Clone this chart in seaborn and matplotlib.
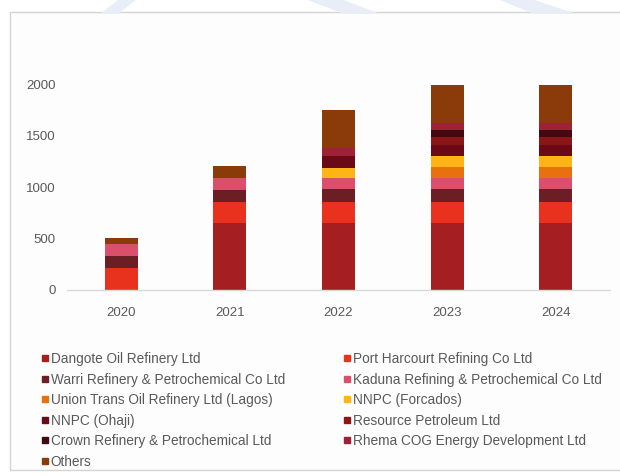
import matplotlib
matplotlib.use("Agg")
import matplotlib.pyplot as plt
from matplotlib.lines import Line2D
from matplotlib.patches import Polygon, Rectangle
import numpy as np
import pandas as pd
import seaborn as sns

years = ["2020", "2021", "2022", "2023", "2024"]
companies = [
    "Dangote Oil Refinery Ltd",
    "Port Harcourt Refining Co Ltd",
    "Warri Refinery & Petrochemical Co Ltd",
    "Kaduna Refining & Petrochemical Co Ltd",
    "Union Trans Oil Refinery Ltd (Lagos)",
    "NNPC (Forcados)",
    "NNPC (Ohaji)",
    "Resource Petroleum Ltd",
    "Crown Refinery & Petrochemical Ltd",
    "Rhema COG Energy Development Ltd",
    "Others",
]
dangote = [0, 650, 650, 650, 650]
port_harcourt = [210, 210, 210, 210, 210]
warri = [125, 115, 120, 120, 120]
kaduna = [115, 110, 110, 110, 110]
union_trans = [0, 0, 0, 110, 110]
forcados = [0, 0, 100, 100, 100]
ohaji = [0, 0, 115, 110, 110]
resource = [0, 0, 0, 80, 80]
crown = [0, 0, 0, 70, 70]
rhema = [0, 0, 80, 60, 60]
others = [60, 125, 365, 370, 370]
series = [dangote, port_harcourt, warri, kaduna, union_trans, forcados,
          ohaji, resource, crown, rhema, others]
colors = ["#A51E22", "#E8321E", "#6B1E24", "#DA506C", "#E8700E", "#FDB515",
          "#6A0A16", "#8C1616", "#420A10", "#9E2136", "#8B3A0A"]

sns.set_theme(style="white")
plt.rcParams["font.family"] = ["Liberation Sans", "DejaVu Sans"]

W, H = 620, 475
fig = plt.figure(figsize=(W / 100, H / 100), dpi=100)
fig.patch.set_facecolor("white")

# decorative background
fig.add_artist(Rectangle((10 / W, (H - 470) / H), (W - 8) / W, (470 - 12) / H,
                         transform=fig.transFigure, facecolor="#fdfdfd",
                         edgecolor="#d4d4d4", linewidth=1.0, zorder=0))
for pts in [[(100, 14), (118, 14), (136, 0), (118, 0)],
            [(344, 14), (380, 14), (344, 0), (308, 0)],
            [(534, 14), (577, 14), (534, 0), (500, 0)]]:
    fig.add_artist(Polygon([(x / W, (H - y) / H) for x, y in pts],
                           closed=True, transform=fig.transFigure,
                           facecolor="#e8edf7", edgecolor="none", zorder=0))

ax = fig.add_axes([67 / W, (H - 290) / H, (610 - 67) / W, (290 - 33) / H])
ax.set_facecolor("none")

cum = np.cumsum(np.array(series, dtype=float), axis=0)
for i in range(len(series) - 1, -1, -1):
    df = pd.DataFrame({"year": years, "value": cum[i]})
    sns.barplot(data=df, x="year", y="value", color=colors[i], saturation=1,
                width=0.305, order=years, ax=ax, linewidth=0, edgecolor="none")

ax.set_xlim(-0.5, 4.5)
ax.set_ylim(0, 2500)
ax.set_yticks([0, 500, 1000, 1500, 2000])
ax.set_xlabel("")
ax.set_ylabel("")
for s in ["top", "right", "left"]:
    ax.spines[s].set_visible(False)
ax.spines["bottom"].set_color("#d9d9d9")
ax.spines["bottom"].set_linewidth(1.0)
tick_fs = 9.5
ax.tick_params(axis="x", length=0, pad=12, labelsize=tick_fs, labelcolor="#595959")
ax.tick_params(axis="y", length=0, pad=8, labelsize=tick_fs, labelcolor="#595959")
ax.grid(False)

def handle(c):
    return Line2D([], [], marker="s", linestyle="none", markersize=4.2,
                  markerfacecolor=c, markeredgecolor=c)

left_idx = [0, 2, 4, 6, 8, 10]
right_idx = [1, 3, 5, 7, 9]
leg_fs = 9.8
for idx, x0 in [(left_idx, 42), (right_idx, 344)]:
    leg = fig.legend([handle(colors[i]) for i in idx], [companies[i] for i in idx],
                     loc="upper left", bbox_to_anchor=(x0 / W, (H - 352) / H),
                     frameon=False, fontsize=leg_fs, handlelength=0.5,
                     handletextpad=0.15, labelspacing=0.48, borderpad=0,
                     borderaxespad=0)
    for t in leg.get_texts():
        t.set_color("#595959")

fig.savefig("out.png", dpi=100, facecolor="white")
